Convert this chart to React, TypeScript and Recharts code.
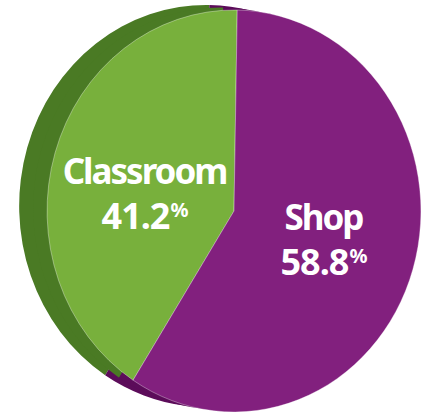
// Two-slice pie drawn as a tilted disc: a darker copy behind gives the side wall

import { PieChart, Pie, Cell } from 'recharts';

const categories = ['Classroom', 'Shop'];
const shares = [41.2, 58.8];

const FACE_COLORS = ['#78b03c', '#82207e'];
const SIDE_COLORS = ['#4a7a24', '#5c0c5a'];
const LABEL_NUDGE_Y = [12, 0];

const WIDTH = 426;
const HEIGHT = 413;
const CHART_W = 470;
const CX = 234;
const CY = 211;
const RADIUS = 201;
const SQUASH = 0.93; // horizontal squeeze turns the circle into the ellipse
const SIDE_DX = -30;
const SIDE_DY = -5;

const data = categories.map((name, i) => ({ name, value: shares[i] }));

const RADIAN = Math.PI / 180;

const renderLabel = (props: any) => {
  const { cx, cy, midAngle, outerRadius, index } = props;
  const r = outerRadius * 0.5;
  const x = cx + r * Math.cos(-midAngle * RADIAN);
  const y = cy + r * Math.sin(-midAngle * RADIAN) + LABEL_NUDGE_Y[index];
  return (
    <g transform={`translate(${x},${y}) scale(${1 / SQUASH},1)`}>
      <text
        x={0}
        y={-10}
        textAnchor="middle"
        fill="#ffffff"
        fontFamily="'Noto Sans', sans-serif"
        fontWeight={700}
        fontSize={35}
        letterSpacing={-2}
      >
        {categories[index]}
      </text>
      <text
        x={0}
        y={35}
        textAnchor="middle"
        fill="#ffffff"
        fontFamily="'Noto Sans', sans-serif"
        fontWeight={700}
        fontSize={36}
        letterSpacing={-1}
      >
        {shares[index].toFixed(1)}
        <tspan fontSize={20} dx={1} dy={-12}>%</tspan>
      </text>
    </g>
  );
};

export default function App() {
  return (
    <div
      style={{
        position: 'absolute',
        left: 0,
        top: 0,
        width: WIDTH,
        height: HEIGHT,
        overflow: 'hidden',
        background: '#ffffff',
      }}
    >
      <div
        style={{
          width: CHART_W,
          height: HEIGHT,
          transform: `scaleX(${SQUASH})`,
          transformOrigin: `${CX}px 0px`,
        }}
      >
        <PieChart width={CHART_W} height={HEIGHT} margin={{ top: 0, right: 0, bottom: 0, left: 0 }}>
          {/* side wall */}
          <Pie
            data={data}
            dataKey="value"
            cx={CX + SIDE_DX}
            cy={CY + SIDE_DY}
            outerRadius={RADIUS}
            startAngle={89}
            endAngle={449}
            stroke="none"
            isAnimationActive={false}
          >
            {data.map((d, i) => (
              <Cell key={d.name} fill={SIDE_COLORS[i]} />
            ))}
          </Pie>
          <Pie
            data={data}
            dataKey="value"
            cx={CX + SIDE_DX / 2}
            cy={CY + SIDE_DY / 2}
            outerRadius={RADIUS}
            startAngle={89}
            endAngle={449}
            stroke="none"
            isAnimationActive={false}
          >
            {data.map((d, i) => (
              <Cell key={d.name} fill={SIDE_COLORS[i]} />
            ))}
          </Pie>
          {/* top face */}
          <Pie
            data={data}
            dataKey="value"
            cx={CX}
            cy={CY}
            outerRadius={RADIUS}
            startAngle={89}
            endAngle={449}
            stroke="rgba(255,255,255,0.45)"
            strokeWidth={0.8}
            labelLine={false}
            label={renderLabel}
            isAnimationActive={false}
          >
            {data.map((d, i) => (
              <Cell key={d.name} fill={FACE_COLORS[i]} />
            ))}
          </Pie>
        </PieChart>
      </div>
    </div>
  );
}
